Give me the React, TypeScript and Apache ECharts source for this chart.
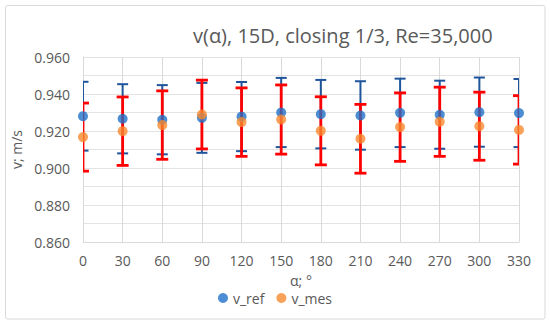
import React, { useEffect, useRef } from "react";
import * as echarts from "echarts";

const angles = [0, 30, 60, 90, 120, 150, 180, 210, 240, 270, 300, 330];
const vRef = [0.928, 0.9266, 0.9261, 0.9271, 0.9278, 0.93, 0.9291, 0.9284, 0.9298, 0.9288, 0.9302, 0.9297];
const vRefErr = [0.0186, 0.0187, 0.0187, 0.0189, 0.0187, 0.0187, 0.0185, 0.0185, 0.0185, 0.0184, 0.0187, 0.0184];
const vMes = [0.9167, 0.9199, 0.9232, 0.9289, 0.9248, 0.9262, 0.9201, 0.9158, 0.9221, 0.925, 0.9226, 0.9206];
const vMesErr = [0.0184, 0.0185, 0.0185, 0.0186, 0.0185, 0.0187, 0.0184, 0.0186, 0.0185, 0.0187, 0.0184, 0.0185];

const TXT = "#595959";
const FONT = "'Open Sans', 'Noto Sans', sans-serif";

function errRender(color: string, lw: number, capW: number) {
  return (params: any, api: any) => {
    const x = api.value(0);
    const lo = api.coord([x, api.value(1)]);
    const hi = api.coord([x, api.value(2)]);
    const style = { stroke: color, lineWidth: lw, fill: "none" };
    return {
      type: "group",
      children: [
        { type: "line", shape: { x1: lo[0], y1: lo[1], x2: hi[0], y2: hi[1] }, style },
        { type: "line", shape: { x1: lo[0] - capW / 2, y1: lo[1], x2: lo[0] + capW / 2, y2: lo[1] }, style },
        { type: "line", shape: { x1: hi[0] - capW / 2, y1: hi[1], x2: hi[0] + capW / 2, y2: hi[1] }, style },
      ],
    };
  };
}

export default function App() {
  const ref = useRef<HTMLDivElement>(null);
  useEffect(() => {
    if (!ref.current) return;
    const chart = echarts.init(ref.current, null, { renderer: "svg" });
    const refErrData = angles.map((a, i) => [a, vRef[i] - vRefErr[i], vRef[i] + vRefErr[i]]);
    const mesErrData = angles.map((a, i) => [a, vMes[i] - vMesErr[i], vMes[i] + vMesErr[i]]);
    chart.setOption({
      animation: false,
      backgroundColor: "#ffffff",
      textStyle: { fontFamily: FONT },
      title: {
        text: "v(α), 15D, closing 1/3, Re=35,000",
        left: 188,
        top: 20,
        textStyle: { color: TXT, fontSize: 20, fontWeight: "normal", fontFamily: FONT },
      },
      graphic: [
        {
          type: "rect",
          shape: { x: 5.5, y: 5.5, width: 539.5, height: 313.5, r: 2 },
          style: { fill: "none", stroke: "#d9d9d9", lineWidth: 1 },
          silent: true,
        },
      ],
      legend: {
        data: ["v_ref", "v_mes"],
        left: "center",
        top: 286,
        icon: "circle",
        itemWidth: 10,
        itemHeight: 10,
        itemGap: 12,
        textStyle: { color: TXT, fontSize: 14, fontFamily: FONT },
      },
      grid: { left: 83, right: 31, top: 57, bottom: 82 },
      xAxis: {
        type: "value",
        min: 0,
        max: 330,
        interval: 30,
        name: "α; °",
        nameLocation: "middle",
        nameGap: 31,
        nameTextStyle: { color: TXT, fontSize: 14, fontFamily: FONT, lineHeight: 14 },
        axisLine: { show: true, lineStyle: { color: "#d9d9d9" } },
        axisTick: { show: false },
        axisLabel: { color: TXT, fontSize: 14, margin: 11, fontFamily: FONT },
        splitLine: { show: true, lineStyle: { color: "#d9d9d9" } },
      },
      yAxis: {
        type: "value",
        min: 0.86,
        max: 0.96,
        interval: 0.01,
        name: "v; m/s",
        nameLocation: "middle",
        nameGap: 49,
        nameTextStyle: { color: TXT, fontSize: 14, fontFamily: FONT },
        axisLine: { show: true, lineStyle: { color: "#d9d9d9" } },
        axisTick: { show: false },
        axisLabel: {
          color: TXT,
          fontSize: 14,
          margin: 13,
          fontFamily: FONT,
          formatter: (v: number) => {
            const k = Math.round(v * 1000);
            return k % 20 === 0 ? (k / 1000).toFixed(3) : "";
          },
        },
        splitLine: { show: true, lineStyle: { color: "#e3e3e3" } },
      },
      series: [
        {
          name: "refErr",
          type: "custom",
          clip: true,
          z: 2,
          renderItem: errRender("#1f559c", 2, 11),
          encode: { x: 0, y: [1, 2] },
          data: refErrData,
          silent: true,
        },
        {
          name: "mesErr",
          type: "custom",
          clip: true,
          z: 3,
          renderItem: errRender("#ff0000", 2.8, 12),
          encode: { x: 0, y: [1, 2] },
          data: mesErrData,
          silent: true,
        },
        {
          name: "v_ref",
          type: "scatter",
          z: 4,
          symbol: "circle",
          symbolSize: 10,
          itemStyle: { color: "#1f70c8" },
          data: angles.map((a, i) => [a, vRef[i]]),
        },
        {
          name: "v_mes",
          type: "scatter",
          z: 5,
          symbol: "circle",
          symbolSize: 10,
          itemStyle: { color: "#f88a2e" },
          data: angles.map((a, i) => [a, vMes[i]]),
        },
      ],
    });
    return () => chart.dispose();
  }, []);
  return <div ref={ref} style={{ width: 550, height: 324, position: "absolute", left: 0, top: 0 }} />;
}
